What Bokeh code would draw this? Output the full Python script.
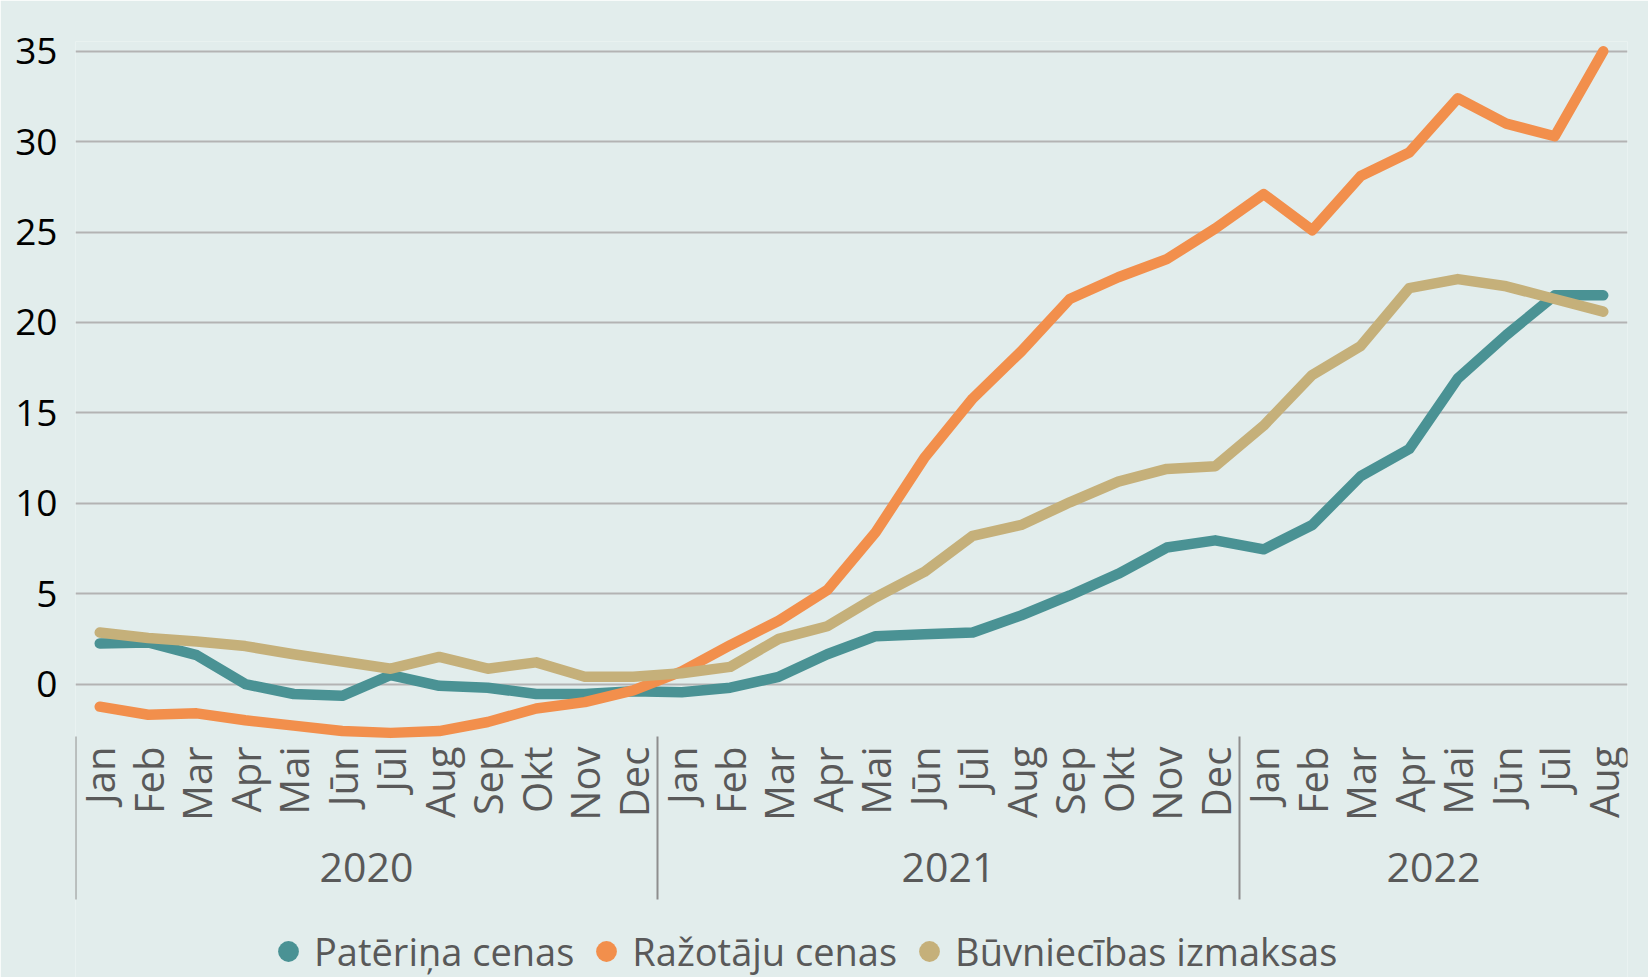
import math
import numpy as np
from bokeh.plotting import figure
from bokeh.models import LinearAxis, FixedTicker, Range1d, Legend, LegendItem
from bokeh.embed import file_html
from bokeh.resources import INLINE

# ---------------- data ----------------
years = ["2020", "2021", "2022"]
months_per_year = [12, 12, 8]
month_names = ["Jan", "Feb", "Mar", "Apr", "Mai", "Jūn", "Jūl", "Aug", "Sep", "Okt", "Nov", "Dec"]
months = [m for n in months_per_year for m in month_names[:n]]

paterina_cenas = [2.25, 2.3, 1.6, 0.0, -0.55, -0.65, 0.5, -0.1, -0.2, -0.55, -0.55, -0.4,
                  -0.45, -0.2, 0.4, 1.65, 2.65, 2.75, 2.85, 3.8, 4.9, 6.1, 7.55, 7.95,
                  7.45, 8.8, 11.5, 13.0, 16.9, 19.3, 21.5, 21.5]
razotaju_cenas = [-1.25, -1.7, -1.62, -2.0, -2.3, -2.6, -2.7, -2.6, -2.1, -1.35, -1.0, -0.35,
                  0.7, 2.15, 3.5, 5.2, 8.4, 12.5, 15.8, 18.4, 21.3, 22.5, 23.5, 25.2,
                  27.1, 25.1, 28.1, 29.4, 32.4, 31.0, 30.3, 35.0]
buvniecibas_izmaksas = [2.85, 2.55, 2.35, 2.1, 1.65, 1.25, 0.85, 1.5, 0.85, 1.2, 0.4, 0.4,
                        0.6, 0.95, 2.5, 3.2, 4.8, 6.2, 8.2, 8.8, 10.05, 11.2, 11.9, 12.05,
                        14.3, 17.1, 18.7, 21.9, 22.4, 22.0, 21.3, 20.6]

series_names = ["Patēriņa cenas", "Ražotāju cenas", "Būvniecības izmaksas"]
series_values = [paterina_cenas, razotaju_cenas, buvniecibas_izmaksas]
y_ticks = [0, 5, 10, 15, 20, 25, 30, 35]

# ---------------- style ----------------
BG = "#E2EDEC"
colors = ["#4A9294", "#F28F4C", "#C5B07A"]
TXT = "#595959"
FONT = "Open Sans"
AXIS_AT = -2.90          # value at which the category axis sits (bottom of plotting area)

x = list(range(len(months)))
starts = np.cumsum([0] + months_per_year[:-1])
boundaries = [float(s) - 0.5 for s in starts]
year_centers = [float(s) + (n - 1) / 2 for s, n in zip(starts, months_per_year)]

p = figure(width=1648, height=977,
           x_range=Range1d(-0.5, len(months) - 0.5),
           y_range=Range1d(-16.23, 35.54),
           output_backend="svg", toolbar_location=None,
           min_border_left=75, min_border_right=21,
           min_border_top=41, min_border_bottom=0,
           background_fill_color=BG, border_fill_color=BG,
           outline_line_color=None)

# y axis
ya = p.yaxis[0]
ya.ticker = FixedTicker(ticks=y_ticks)
ya.axis_line_color = None
ya.major_tick_line_color = None
ya.minor_tick_line_color = None
ya.major_tick_out = 0
ya.major_label_standoff = 18
ya.major_label_text_font = FONT
ya.major_label_text_font_size = "37px"
ya.major_label_text_color = "#000000"

p.xgrid.grid_line_color = None
p.ygrid.grid_line_color = "#B3B3B3"
p.ygrid.grid_line_width = 2
p.ygrid.ticker = FixedTicker(ticks=y_ticks)

# month axis (year separators drawn as long minor ticks)
xa = p.xaxis[0]
xa.fixed_location = AXIS_AT
xa.ticker = FixedTicker(ticks=x, minor_ticks=boundaries)
xa.major_label_overrides = {i: m for i, m in enumerate(months)}
xa.major_label_orientation = math.pi / 2
xa.axis_line_color = None
xa.major_tick_line_color = None
xa.major_tick_out = 0
xa.major_tick_in = 0
xa.minor_tick_line_color = "#8E8E8E"
xa.minor_tick_line_width = 2
xa.minor_tick_out = 163
xa.minor_tick_in = 0
xa.major_label_standoff = -153
xa.major_label_text_font = FONT
xa.major_label_text_font_size = "40px"
xa.major_label_text_color = TXT

# year axis
yr = LinearAxis(ticker=FixedTicker(ticks=year_centers, minor_ticks=[]),
                major_label_overrides={c: y for c, y in zip(year_centers, years)},
                fixed_location=AXIS_AT)
yr.axis_line_color = None
yr.major_tick_line_color = None
yr.minor_tick_line_color = None
yr.major_tick_out = 0
yr.major_tick_in = 0
yr.major_label_standoff = 117
yr.major_label_text_font = FONT
yr.major_label_text_font_size = "41px"
yr.major_label_text_color = TXT
p.add_layout(yr, "below")

# lines
items = []
for name, vals, col in zip(series_names, series_values, colors):
    p.line(x, vals, line_color=col, line_width=10.5, line_cap="round", line_join="round")
for name, vals, col in zip(series_names, series_values, colors):
    r = p.scatter(x, vals, size=0, marker="circle", fill_color=col, line_color=None)
    items.append(LegendItem(label=name, renderers=[r]))

legend = Legend(items=items, location=(187, 0), orientation="horizontal",
                glyph_width=52, glyph_height=52, label_standoff=0, spacing=6,
                padding=0, margin=0, background_fill_alpha=0, border_line_color=None,
                label_text_font=FONT, label_text_font_size="38px", label_text_color=TXT)
p.add_layout(legend)

open("out.html", "w").write(file_html(p, INLINE))
